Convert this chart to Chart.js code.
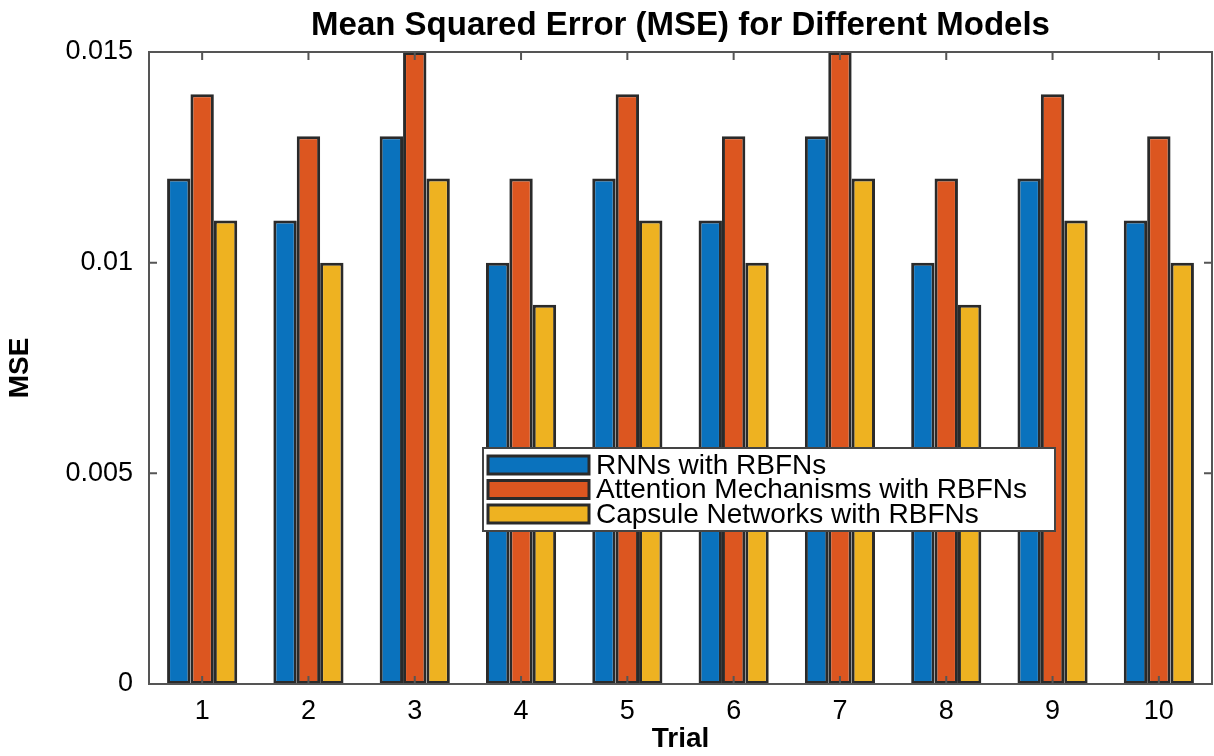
<!DOCTYPE html>
<html>
<head>
<meta charset="utf-8">
<script src="https://cdn.jsdelivr.net/npm/chart.js@4/dist/chart.umd.min.js"></script>
<style>
  html, body { margin: 0; padding: 0; background: #fff; }
  #wrap { width: 1214px; height: 756px; }
</style>
</head>
<body>
<div id="wrap"><canvas id="mseChart"></canvas></div>
<script>
const trials = ['1', '2', '3', '4', '5', '6', '7', '8', '9', '10'];
const rnnMse = [0.012, 0.011, 0.013, 0.010, 0.012, 0.011, 0.013, 0.010, 0.012, 0.011];
const attentionMse = [0.014, 0.013, 0.015, 0.012, 0.014, 0.013, 0.015, 0.012, 0.014, 0.013];
const capsuleMse = [0.011, 0.010, 0.012, 0.009, 0.011, 0.010, 0.012, 0.009, 0.011, 0.010];
const seriesNames = ['RNNs with RBFNs', 'Attention Mechanisms with RBFNs', 'Capsule Networks with RBFNs'];
const seriesColors = ['#0a72bd', '#dc5620', '#eeb221'];

const fontFamily = 'Liberation Sans, Arial, sans-serif';
const axisColor = '#555555';
const edgeColor = '#2a2a2a';

// box round the plot + inward ticks, like matlab
const frameAndTicks = {
    id: 'frameAndTicks',
    afterDatasetsDraw(chart) {
        const ctx = chart.ctx;
        const a = chart.chartArea;
        const x = chart.scales.x;
        const y = chart.scales.y;
        ctx.save();
        ctx.strokeStyle = axisColor;
        ctx.lineWidth = 2;
        ctx.strokeRect(a.left, a.top, a.right - a.left, a.bottom - a.top);
        ctx.beginPath();
        x.ticks.forEach((t, i) => {
            const px = x.getPixelForTick(i);
            ctx.moveTo(px, a.bottom); ctx.lineTo(px, a.bottom - 8);
            ctx.moveTo(px, a.top); ctx.lineTo(px, a.top + 8);
        });
        y.ticks.forEach((t, i) => {
            const py = y.getPixelForTick(i);
            ctx.moveTo(a.left, py); ctx.lineTo(a.left + 8, py);
            ctx.moveTo(a.right, py); ctx.lineTo(a.right - 8, py);
        });
        ctx.stroke();
        ctx.restore();
    },
    afterDraw(chart) {
        // legend box inside the plot
        const ctx = chart.ctx;
        const box = { left: 483, top: 448, right: 1055, bottom: 531 };
        ctx.save();
        ctx.fillStyle = '#ffffff';
        ctx.fillRect(box.left, box.top, box.right - box.left, box.bottom - box.top);
        ctx.strokeStyle = '#444';
        ctx.lineWidth = 2;
        ctx.strokeRect(box.left, box.top, box.right - box.left, box.bottom - box.top);
        ctx.font = '28px ' + fontFamily;
        ctx.textBaseline = 'middle';
        chart.data.datasets.forEach((ds, i) => {
            const cy = 465 + i * 24.5;
            ctx.fillStyle = ds.backgroundColor;
            ctx.fillRect(488, cy - 9, 101, 18);
            ctx.strokeStyle = edgeColor;
            ctx.lineWidth = 3;
            ctx.strokeRect(488, cy - 9, 101, 18);
            ctx.fillStyle = '#000';
            ctx.fillText(ds.label, 596, cy + 1);
        });
        ctx.restore();
    }
};

const ctx = document.getElementById('mseChart').getContext('2d');
new Chart(ctx, {
    type: 'bar',
    data: {
        labels: trials,
        datasets: [rnnMse, attentionMse, capsuleMse].map((vals, i) => ({
            label: seriesNames[i],
            data: vals,
            backgroundColor: seriesColors[i],
            borderColor: edgeColor,
            borderWidth: 3,
            borderSkipped: false,
            barPercentage: 1.0,
            categoryPercentage: 0.66
        }))
    },
    options: {
        responsive: true,
        maintainAspectRatio: false,
        animation: false,
        layout: { padding: { top: 0, right: 2, bottom: 0, left: 0 } },
        plugins: {
            legend: { display: false },
            tooltip: { enabled: false },
            title: {
                display: true,
                fullSize: false,
                text: 'Mean Squared Error (MSE) for Different Models',
                color: '#000',
                font: { family: fontFamily, size: 33, weight: 'bold' },
                padding: { top: 6, bottom: 6.4 }
            }
        },
        scales: {
            x: {
                grid: { display: false, drawTicks: false },
                border: { display: false },
                ticks: {
                    color: '#000',
                    padding: 11,
                    maxRotation: 0,
                    font: { family: fontFamily, size: 27 }
                },
                title: {
                    display: true,
                    text: 'Trial',
                    color: '#000',
                    font: { family: fontFamily, size: 28, weight: 'bold' },
                    padding: { top: 0, bottom: 0 }
                },
                afterFit(scale) { scale.height = 72; }
            },
            y: {
                min: 0,
                max: 0.015,
                grid: { display: false, drawTicks: false },
                border: { display: false },
                ticks: {
                    stepSize: 0.005,
                    color: '#000',
                    padding: 16,
                    font: { family: fontFamily, size: 27 },
                    callback: v => String(+v.toFixed(3))
                },
                title: {
                    display: true,
                    text: 'MSE',
                    color: '#000',
                    font: { family: fontFamily, size: 28, weight: 'bold' },
                    padding: { top: 3, bottom: 0 }
                },
                afterFit(scale) { scale.width = 149; }
            }
        }
    },
    plugins: [frameAndTicks]
});
</script>
</body>
</html>
